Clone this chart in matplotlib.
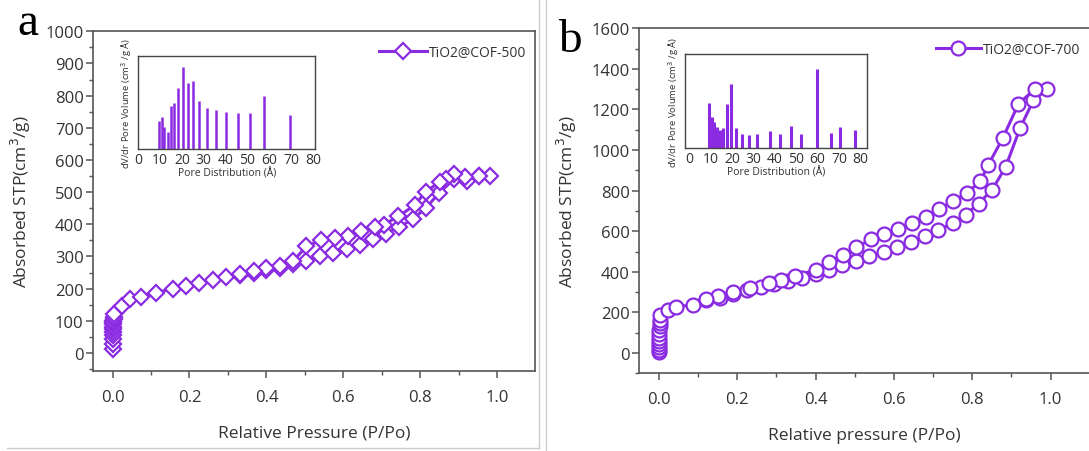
import matplotlib
matplotlib.use("Agg")
import matplotlib.pyplot as plt
from matplotlib.lines import Line2D
from matplotlib.ticker import MultipleLocator, FormatStrFormatter

plt.rcParams['font.family'] = ['Open Sans', 'DejaVu Sans']

PURPLE = '#8A2BE2'
TXT = '#333333'

# ---------------- Panel a: TiO2@COF-500 ----------------
a_ads_x = [0.0001, 0.0002, 0.0004, 0.0006, 0.0008, 0.001, 0.0013, 0.0016, 0.002, 0.0025, 0.003, 0.004,
           0.005, 0.024, 0.046, 0.075, 0.112, 0.156, 0.19, 0.226, 0.262, 0.296, 0.331, 0.367, 0.4,
           0.435, 0.47, 0.502, 0.539, 0.573, 0.609, 0.643, 0.676, 0.71, 0.745, 0.781, 0.815, 0.849,
           0.887, 0.92, 0.953, 0.982]
a_ads_y = [12, 28, 42, 55, 65, 74, 82, 89, 95, 101, 106, 112,
           120, 146, 169, 174, 187, 200, 208, 217, 226, 235, 244, 250, 258,
           265, 278, 286, 300, 311, 324, 337, 355, 371, 391, 417, 451, 498,
           541, 536, 550, 549]
a_des_x = [0.953, 0.915, 0.887, 0.866, 0.85, 0.814, 0.785, 0.743, 0.705, 0.683, 0.647, 0.612,
           0.577, 0.542, 0.504, 0.47, 0.435, 0.4, 0.367, 0.331]
a_des_y = [550, 547, 557, 541, 531, 502, 459, 425, 399, 391, 378, 365,
           358, 350, 332, 286, 270, 264, 254, 246]

# inset a: pore size distribution
a_pore_x = [9.5, 10.8, 12.0, 13.4, 14.8, 16.3, 18.3, 20.3, 22.6, 25.1, 28.0, 31.4, 35.4, 40.2,
            45.5, 51.2, 57.7, 69.5]
a_pore_v = [85, 95, 67, 52, 128, 138, 182, 246, 199, 203, 143, 124, 118, 112,
            108, 108, 160, 103]

# ---------------- Panel b: TiO2@COF-700 ----------------
b_ads_x = [0.0001, 0.0002, 0.0003, 0.0005, 0.0007, 0.0009, 0.0012, 0.0015, 0.002, 0.0025, 0.003,
           0.004, 0.024, 0.044, 0.086, 0.121, 0.157, 0.189, 0.225, 0.26, 0.294, 0.329, 0.365,
           0.4, 0.434, 0.468, 0.504, 0.537, 0.575, 0.609, 0.643, 0.679, 0.712, 0.75, 0.783,
           0.816, 0.851, 0.885, 0.922, 0.956, 0.991]
b_ads_y = [5, 15, 28, 42, 58, 75, 95, 115, 135, 150, 165,
           186, 210, 227, 238, 259, 273, 292, 309, 325, 338, 353, 369,
           391, 407, 432, 453, 476, 497, 522, 547, 575, 604, 640, 681,
           736, 805, 916, 1108, 1245, 1299]
b_des_x = [0.959, 0.918, 0.878, 0.84, 0.821, 0.787, 0.751, 0.714, 0.681, 0.645, 0.611, 0.575,
           0.542, 0.504, 0.471, 0.434, 0.4, 0.347, 0.313, 0.281, 0.232, 0.188, 0.152, 0.119]
b_des_y = [1299, 1228, 1059, 924, 846, 790, 747, 708, 670, 642, 612, 588,
           560, 522, 484, 448, 410, 379, 361, 345, 320, 300, 279, 268]

b_pore_x = [9.4, 10.5, 11.5, 12.9, 14.4, 15.8, 17.6, 19.5, 22.0, 24.8, 27.9, 31.5, 37.8, 42.3,
            47.4, 52.3, 59.6, 66.5, 70.5, 77.4]
b_pore_v = [135, 95, 78, 65, 56, 60, 133, 192, 62, 43, 39, 42, 53, 43,
            68, 43, 239, 47, 63, 55]

W, H = 1089, 452
fig = plt.figure(figsize=(W / 100, H / 100), dpi=100)


def fr(l, t, r, b):
    return [l / W, 1 - b / H, (r - l) / W, (b - t) / H]


def style_main(ax, ymaj, ymin):
    for s in ax.spines.values():
        s.set_color('#555555')
        s.set_linewidth(1.2)
    ax.xaxis.set_major_locator(MultipleLocator(0.2))
    ax.xaxis.set_minor_locator(MultipleLocator(0.1))
    ax.yaxis.set_major_locator(MultipleLocator(ymaj))
    ax.yaxis.set_minor_locator(MultipleLocator(ymin))
    ax.tick_params(axis='both', which='major', direction='out', length=5, width=1.1,
                   color='#555555', labelsize=12, labelcolor=TXT, pad=2)
    ax.tick_params(axis='both', which='minor', direction='out', length=3, width=1.0,
                   color='#555555')
    ax.tick_params(axis='x', which='major', pad=8)
    ax.xaxis.set_major_formatter(FormatStrFormatter('%.1f'))


def style_inset(ax, xlim, ylim, pad):
    for s in ax.spines.values():
        s.set_color('#444444')
        s.set_linewidth(1.0)
    ax.set_xlim(*xlim)
    ax.set_ylim(*ylim)
    ax.set_xticks(range(0, 81, 10))
    ax.set_yticks([])
    ax.tick_params(axis='x', length=0, labelsize=10, labelcolor=TXT, pad=2)
    ax.set_xlabel('Pore Distribution (Å)', fontsize=7.5, color=TXT, labelpad=0)
    ax.set_ylabel('dV/dr Pore Volume (cm$^3$ /g Å)', fontsize=6.8, color=TXT, labelpad=pad)


# ----- panel a -----
axa = fig.add_axes(fr(93.3, 32.3, 535, 371.7))
axa.plot(a_ads_x + a_des_x, a_ads_y + a_des_y, color=PURPLE, lw=2.2, marker='D', ms=8.2,
         mfc='white', mec=PURPLE, mew=1.6, label='TiO2@COF-500')
axa.set_xlim(-0.05, 1.098)
axa.set_ylim(-55, 1000)
style_main(axa, 100, 50)
axa.set_xlabel('Relative Pressure (P/Po)', fontsize=12.5, color=TXT, labelpad=14)
axa.set_ylabel('Absorbed STP(cm$^3$/g)', fontsize=12.5, color=TXT, labelpad=9)
axa.legend(loc='upper right', bbox_to_anchor=(1.0, 0.985), frameon=False, fontsize=10,
           handlelength=3.4, handletextpad=0.2, borderaxespad=0.2, labelcolor=TXT)

insa = fig.add_axes(fr(138.3, 57.3, 315, 150))
insa.vlines(a_pore_x, 0, a_pore_v, color=PURPLE, lw=1.8)
style_inset(insa, (0, 81), (0, 278), 3)

# ----- panel b -----
axb = fig.add_axes(fr(639.3, 29.3, 1089, 374.3))
axb.plot(b_ads_x + b_des_x, b_ads_y + b_des_y, color=PURPLE, lw=2.2, marker='o', ms=10,
         mfc='white', mec=PURPLE, mew=1.6, label='TiO2@COF-700')
axb.set_xlim(-0.05, 1.098)
axb.set_ylim(-100, 1600)
style_main(axb, 200, 100)
axb.spines['right'].set_visible(False)
axb.set_xlabel('Relative pressure (P/Po)', fontsize=12.5, color=TXT, labelpad=14)
axb.set_ylabel('Absorbed STP(cm$^3$/g)', fontsize=12.5, color=TXT, labelpad=9)
axb.legend(loc='upper right', bbox_to_anchor=(1.0, 0.985), frameon=False, fontsize=10,
           handlelength=3.2, handletextpad=0.2, borderaxespad=0.2, labelcolor=TXT)

insb = fig.add_axes(fr(685, 55, 866.7, 149.3))
insb.vlines(b_pore_x, 0, b_pore_v, color=PURPLE, lw=2.2)
style_inset(insb, (-2, 83), (0, 283), 3)

# panel letters
fig.text(17 / W, 1 - 35 / H, 'a', family=['Liberation Serif', 'DejaVu Serif'], fontsize=34,
         va='baseline', ha='left', color='black')
fig.text(558 / W, 1 - 52 / H, 'b', family=['Liberation Serif', 'DejaVu Serif'], fontsize=34,
         va='baseline', ha='left', color='black')

# light separator frame lines
fig.add_artist(Line2D([539 / W, 539 / W], [1 - 449 / H, 1], color='#cccccc', lw=1))
fig.add_artist(Line2D([7 / W, 539 / W], [1 - 449 / H, 1 - 449 / H], color='#cccccc', lw=1))
fig.add_artist(Line2D([546 / W, 546 / W], [0, 1], color='#cccccc', lw=1))

fig.savefig('out.png', dpi=100)
